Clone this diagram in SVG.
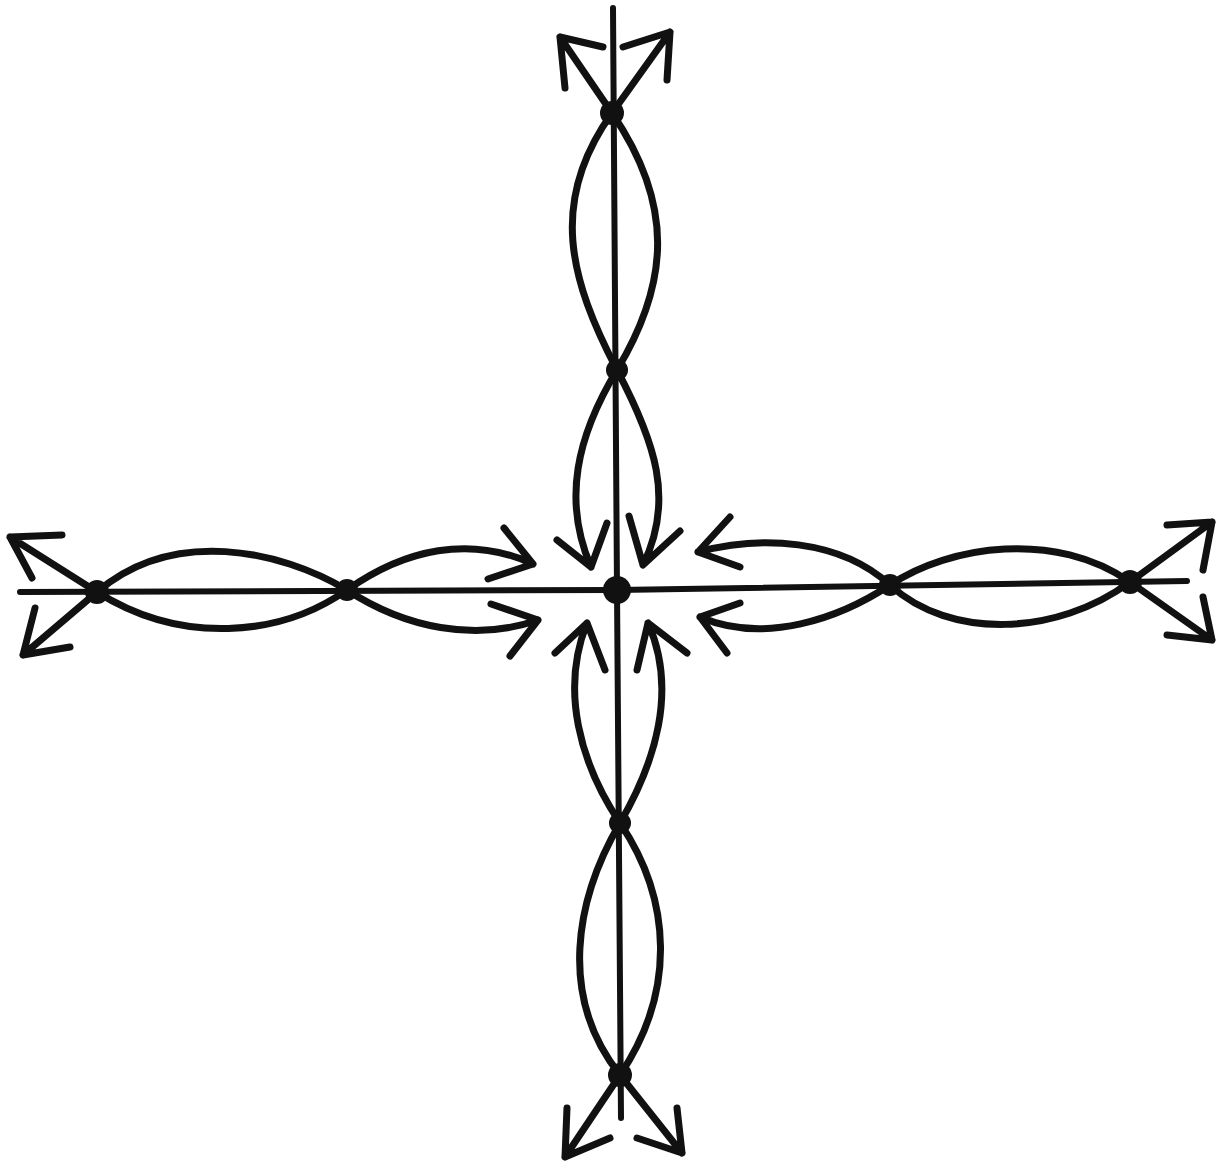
<svg xmlns="http://www.w3.org/2000/svg" width="1225" height="1175" viewBox="0 0 1225 1175">
<style>
.ln{fill:none;stroke:#111;stroke-width:7;stroke-linecap:round;stroke-linejoin:round}
.ax{fill:none;stroke:#111;stroke-width:6;stroke-linecap:round}
.nd{fill:#111}
</style>
<rect width="1225" height="1175" fill="#fff"/>
<g id="connectors">
<path class="ax" d="M613,8 L617,590 L621,1118"/>
<path class="ax" d="M20,592 L617,590 L1187,581"/>
<path class="ln" d="M612,113 C548,202 570,280 617,370"/>
<path class="ln" d="M612,113 C674,204 670,282 617,370"/>
<path class="ln" d="M617,370 C577,436 562,500 591,567 M557,540 L591,567 L607,523"/>
<path class="ln" d="M617,370 C655,442 675,500 643,565 M629,516 L643,565 L680,531"/>
<path class="ln" d="M620,823 C580,763 560,690 587,623 M555,653 L587,623 L605,670"/>
<path class="ln" d="M620,823 C655,763 678,690 648,623 M637,670 L648,623 L687,653"/>
<path class="ln" d="M620,823 C575,900 558,997 620,1075"/>
<path class="ln" d="M620,823 C672,900 676,992 620,1075"/>
<path class="ln" d="M97,592 C173,527 280,550 347,590"/>
<path class="ln" d="M97,592 C181,645 280,637 347,590"/>
<path class="ln" d="M347,590 C405,549 470,535 533,564 M504,528 L533,564 L488,579"/>
<path class="ln" d="M347,590 C405,628 475,642 538,620 M510,656 L538,620 L491,604"/>
<path class="ln" d="M890,585 C840,539 760,535 698,552 M730,517 L698,552 L740,567"/>
<path class="ln" d="M890,585 C840,618 765,645 700,617 M727,653 L700,617 L740,603"/>
<path class="ln" d="M890,585 C950,545 1056,530 1130,582"/>
<path class="ln" d="M890,585 C950,640 1057,636 1130,582"/>
<path class="ln" d="M612,113 L560,37 M603,47 L560,37 L565,88"/>
<path class="ln" d="M612,113 L670,32 M623,47 L670,32 L667,80"/>
<path class="ln" d="M97,592 L10,537 M62,535 L10,537 L32,578"/>
<path class="ln" d="M97,592 L23,655 M70,647 L23,655 L35,608"/>
<path class="ln" d="M1130,582 L1212,522 M1167,525 L1212,522 L1203,570"/>
<path class="ln" d="M1130,582 L1212,640 M1167,635 L1212,640 L1203,597"/>
<path class="ln" d="M620,1075 L565,1157 M567,1108 L565,1157 L610,1138"/>
<path class="ln" d="M620,1075 L682,1153 M677,1108 L682,1153 L637,1138"/>
</g>
<g id="node-center"><circle class="nd" cx="617" cy="590" r="14"/></g>
<g id="node-top"><circle class="nd" cx="612" cy="113" r="12"/></g>
<g id="node-upper"><circle class="nd" cx="617" cy="370" r="11"/></g>
<g id="node-lower"><circle class="nd" cx="620" cy="823" r="11"/></g>
<g id="node-bottom"><circle class="nd" cx="620" cy="1075" r="12"/></g>
<g id="node-left"><circle class="nd" cx="97" cy="592" r="12"/></g>
<g id="node-left-mid"><circle class="nd" cx="347" cy="590" r="11"/></g>
<g id="node-right-mid"><circle class="nd" cx="890" cy="585" r="11"/></g>
<g id="node-right"><circle class="nd" cx="1130" cy="582" r="12"/></g>
</svg>
